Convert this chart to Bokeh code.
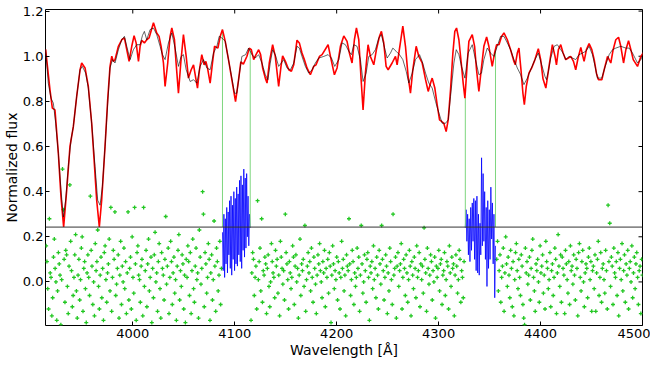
import numpy as np
from bokeh.plotting import figure
from bokeh.models import Range1d, FixedTicker, Span, PrintfTickFormatter
from bokeh.embed import file_html
from bokeh.resources import INLINE

# ---------------- data ----------------
model_wl = [3914.5, 3918.8, 3921.1, 3923.7, 3927.0, 3929.6, 3932.2, 3935.2, 3938.4, 3941.7,
            3945.0, 3948.3, 3949.9, 3953.2, 3956.4, 3959.7, 3962.3, 3964.6, 3967.2, 3969.5,
            3972.8, 3975.4, 3977.7, 3979.4, 3981.0, 3982.6, 3985.9, 3989.2, 3991.8, 3994.1,
            3996.4, 3999.0, 4001.3, 4003.3, 4005.6, 4007.2, 4008.8, 4011.4, 4013.7, 4016.0,
            4020.3, 4023.5, 4025.8, 4027.8, 4030.1, 4031.7, 4034.3, 4036.6, 4038.3, 4040.9,
            4042.5, 4044.8, 4047.1, 4049.7, 4052.4, 4054.6, 4057.3, 4059.6, 4061.8, 4063.5,
            4065.4, 4067.7, 4070.0, 4071.7, 4073.3, 4075.9, 4078.2, 4080.2, 4083.5, 4085.8,
            4088.0, 4090.7, 4093.9, 4097.2, 4100.8, 4103.8, 4106.0, 4108.5, 4112.0, 4114.3,
            4116.3, 4118.6, 4120.9, 4123.5, 4125.4, 4127.4, 4130.0, 4131.7, 4133.9, 4137.2,
            4139.8, 4143.1, 4145.4, 4147.0, 4149.7, 4153.0, 4155.6, 4157.9, 4161.1, 4163.4,
            4166.0, 4168.3, 4170.9, 4174.2, 4177.5, 4179.8, 4183.1, 4185.7, 4191.6, 4193.9,
            4197.8, 4200.4, 4203.7, 4207.0, 4210.2, 4212.5, 4215.1, 4217.4, 4219.4, 4221.7,
            4224.0, 4225.9, 4228.2, 4230.8, 4233.1, 4236.4, 4239.0, 4242.0, 4243.9, 4246.2,
            4248.5, 4250.5, 4254.4, 4257.7, 4259.3, 4261.0, 4264.9, 4267.5, 4270.1, 4272.4,
            4274.7, 4278.0, 4280.6, 4283.9, 4287.2, 4289.8, 4292.1, 4293.7, 4296.3, 4298.6,
            4300.9, 4302.9, 4305.1, 4307.4, 4309.4, 4311.7, 4314.0, 4315.9, 4317.6, 4319.9,
            4322.2, 4324.1, 4325.8, 4328.1, 4329.7, 4333.0, 4335.3, 4337.2, 4339.5, 4341.8,
            4344.4, 4347.1, 4349.3, 4352.6, 4354.9, 4356.9, 4359.2, 4361.8, 4364.1, 4367.4,
            4370.6, 4373.9, 4375.2, 4377.2, 4378.8, 4380.8, 4382.7, 4384.1, 4386.0, 4388.6,
            4391.3, 4394.5, 4397.8, 4400.1, 4402.4, 4405.2, 4408.3, 4411.6, 4414.2, 4415.6,
            4417.5, 4419.8, 4422.1, 4424.7, 4427.3, 4429.6, 4432.3, 4434.5, 4436.8, 4439.5,
            4441.1, 4442.7, 4445.0, 4447.6, 4450.3, 4452.6, 4454.8, 4456.8, 4460.1, 4462.4,
            4465.7, 4468.9, 4471.2, 4473.8, 4476.5, 4478.7, 4481.4, 4483.7, 4486.3, 4488.6,
            4490.9, 4495.1, 4498.4, 4501.0]
model_flux = [1.030, 0.851, 0.770, 0.762, 0.570, 0.377, 0.244, 0.407, 0.600, 0.688,
              0.822, 0.940, 0.970, 0.948, 0.866, 0.703, 0.525, 0.362, 0.244, 0.362,
              0.600, 0.807, 0.955, 1.000, 0.977, 0.985, 1.044, 1.073, 1.081, 1.029,
              0.977, 1.044, 1.091, 1.059, 0.977, 1.044, 1.070, 1.059, 1.073, 1.081,
              1.148, 1.103, 1.088, 1.044, 0.970, 0.866, 0.970, 1.088, 1.125, 1.073,
              0.970, 0.836, 0.970, 1.096, 0.999, 0.903, 0.940, 0.962, 0.903, 0.859,
              0.940, 1.007, 0.962, 0.977, 0.948, 0.881, 0.970, 1.044, 1.036, 1.088,
              1.118, 1.066, 0.985, 0.896, 0.799, 0.896, 0.975, 0.965, 1.000, 1.036,
              1.029, 0.985, 1.007, 1.029, 1.007, 0.948, 0.903, 0.881, 0.970, 1.051,
              0.999, 0.866, 0.955, 1.002, 0.977, 0.940, 0.933, 0.962, 1.071, 1.059,
              1.014, 0.985, 0.948, 0.918, 0.955, 0.962, 0.999, 1.007, 1.051, 0.999,
              0.918, 0.948, 1.044, 1.090, 1.066, 1.014, 0.970, 1.073, 1.125, 1.073,
              0.896, 0.762, 0.925, 1.051, 0.999, 0.962, 1.029, 1.088, 1.110, 1.059,
              0.955, 0.940, 0.970, 0.999, 0.962, 1.014, 1.133, 1.044, 0.911, 0.836,
              0.940, 1.044, 0.999, 0.970, 0.896, 0.844, 0.881, 0.903, 0.859, 0.785,
              0.718, 0.711, 0.703, 0.666, 0.718, 0.851, 1.014, 1.110, 1.125, 1.073,
              0.970, 0.881, 0.814, 0.970, 1.066, 1.096, 1.044, 0.940, 0.844, 0.940,
              1.044, 1.085, 1.044, 0.955, 1.014, 1.051, 1.051, 1.088, 1.103, 1.073,
              1.029, 0.977, 0.962, 1.014, 1.036, 0.940, 0.836, 0.785, 0.866, 0.925,
              0.948, 0.985, 1.033, 0.985, 0.900, 0.859, 0.955, 1.051, 0.999, 0.962,
              1.029, 1.051, 1.014, 0.985, 0.992, 0.999, 0.977, 0.940, 0.992, 1.039,
              1.007, 0.977, 1.029, 1.056, 1.029, 0.985, 0.925, 0.896, 0.896, 0.940,
              0.999, 0.970, 1.029, 1.073, 1.084, 1.044, 0.970, 1.029, 1.069, 1.029,
              0.985, 0.955, 0.999, 1.017]

obs_wl = [3914.5, 3917.1, 3919.8, 3922.1, 3924.4, 3927.0, 3929.6, 3931.9, 3934.2, 3936.8,
          3939.4, 3941.7, 3945.0, 3948.3, 3950.5, 3953.8, 3956.4, 3959.7, 3963.0, 3965.6,
          3967.9, 3970.2, 3972.8, 3975.4, 3977.7, 3980.0, 3982.6, 3985.9, 3989.2, 3991.8,
          3994.1, 3997.4, 4000.6, 4003.9, 4007.2, 4009.5, 4011.4, 4013.7, 4017.0, 4020.3,
          4023.5, 4026.8, 4029.1, 4031.7, 4035.0, 4038.3, 4041.5, 4044.8, 4047.4, 4049.7,
          4052.4, 4056.3, 4059.6, 4062.8, 4066.1, 4069.4, 4072.7, 4075.9, 4079.2, 4082.5,
          4084.8, 4087.4, 4090.7, 4093.9, 4097.2, 4099.8, 4102.1, 4104.7, 4107.0, 4110.7,
          4113.6, 4116.9, 4120.2, 4123.5, 4126.7, 4130.0, 4132.6, 4134.9, 4137.2, 4139.8,
          4143.1, 4145.7, 4148.0, 4151.3, 4154.6, 4157.9, 4161.1, 4163.4, 4166.0, 4169.3,
          4172.6, 4175.9, 4179.1, 4182.4, 4187.3, 4191.6, 4194.9, 4198.1, 4202.1, 4205.3,
          4208.6, 4211.9, 4214.5, 4216.8, 4220.0, 4223.3, 4225.9, 4228.9, 4231.5, 4234.8,
          4238.0, 4241.3, 4243.9, 4246.2, 4249.5, 4252.8, 4255.1, 4258.3, 4261.6, 4264.9,
          4268.2, 4270.8, 4274.1, 4277.3, 4281.3, 4283.9, 4287.2, 4290.4, 4293.7, 4297.0,
          4300.3, 4303.5, 4306.8, 4309.4, 4311.7, 4315.0, 4317.3, 4319.9, 4322.5, 4325.8,
          4329.0, 4333.0, 4336.2, 4339.5, 4342.1, 4344.4, 4347.7, 4351.0, 4354.3, 4357.5,
          4360.8, 4364.1, 4367.4, 4370.6, 4373.9, 4377.2, 4380.5, 4383.7, 4387.0, 4390.3,
          4394.5, 4397.8, 4401.1, 4404.3, 4405.8, 4407.7, 4410.0, 4413.3, 4416.5, 4419.8,
          4422.1, 4424.7, 4428.0, 4431.3, 4434.5, 4437.8, 4441.1, 4444.4, 4447.6, 4450.9,
          4453.5, 4455.8, 4460.1, 4463.4, 4467.3, 4470.6, 4473.8, 4478.7, 4483.7, 4486.9,
          4490.2, 4495.1, 4498.4, 4501.0]
obs_flux = [1.030, 0.881, 0.814, 0.792, 0.703, 0.570, 0.407, 0.288, 0.362, 0.511,
            0.629, 0.688, 0.822, 0.940, 0.955, 0.925, 0.859, 0.703, 0.511, 0.362,
            0.340, 0.422, 0.600, 0.792, 0.948, 0.985, 0.970, 1.029, 1.073, 1.088,
            1.044, 0.985, 1.029, 1.051, 1.051, 1.092, 1.110, 1.073, 1.118, 1.125,
            1.096, 1.044, 1.007, 0.985, 1.059, 1.103, 1.036, 0.955, 0.999, 1.007,
            0.940, 0.888, 0.896, 0.881, 0.955, 0.985, 0.948, 0.940, 1.014, 1.044,
            1.088, 1.081, 1.066, 0.985, 0.903, 0.836, 0.836, 0.925, 0.999, 1.007,
            1.036, 1.007, 0.992, 1.007, 0.970, 0.918, 0.896, 0.970, 1.029, 1.007,
            0.955, 0.970, 0.985, 0.948, 0.940, 0.970, 1.044, 1.036, 0.999, 0.955,
            0.925, 0.940, 0.970, 0.992, 0.999, 1.007, 0.992, 0.955, 0.985, 1.059,
            1.051, 1.022, 1.007, 1.051, 1.044, 0.985, 0.888, 0.925, 0.999, 1.007,
            1.029, 1.081, 1.096, 1.051, 0.992, 1.014, 1.036, 1.022, 1.007, 0.985,
            0.933, 0.881, 0.925, 0.985, 1.007, 0.977, 0.925, 0.881, 0.859, 0.799,
            0.748, 0.703, 0.703, 0.718, 0.822, 0.970, 1.029, 1.007, 0.955, 0.903,
            1.014, 1.051, 0.985, 0.918, 0.925, 0.985, 1.036, 1.014, 0.999, 1.044,
            1.088, 1.088, 1.059, 1.029, 0.985, 0.948, 0.918, 0.874, 0.903, 0.940,
            0.985, 1.014, 0.962, 0.911, 0.896, 0.933, 0.992, 1.044, 1.051, 1.029,
            1.014, 0.985, 0.999, 0.992, 0.985, 1.007, 1.014, 1.022, 1.044, 1.007,
            0.955, 0.903, 0.903, 0.955, 1.007, 1.029, 1.036, 1.044, 1.036, 1.036,
            1.014, 0.970, 0.985, 1.014]

# residuals (in hundredths) for the three fitted segments
resid_seg_limits = [(3915.0, 4087.0), (4116.0, 4325.0), (4357.0, 4500.0)]
resid_a = [16, 9, -3, -12, 28, 4, 2, -15, -7, 11,
           19, 6, 0, -17, -4, 13, 8, 3, -19, 1,
           50, 32, 10, -9, 14, 12, -2, -14, 7, 43,
           18, 5, -11, -6, 2, 12, 21, -4, -16, 3,
           10, -8, 1, 15, 20, -13, 6, 9, -3, -18,
           4, 12, 2, -6, 38, 14, 7, -10, 0, -15,
           17, 5, 9, 23, -2, -12, 3, 11, -7, 6,
           -17, 13, 16, 1, -9, 4, 8, 19, -4, 33,
           -13, 2, 14, 10, 31, -6, -1, 6, 12, -16,
           3, 18, -10, 7, 0, 15, -3, 9, -14, 4,
           31, -8, 6, 11, -12, 20, 2, -5, 33, 8,
           -17, 13, 16, 3, 1, -9, 7, 10, -15, 33,
           -2, 5, 14, -11, 8, 19, -4, 2, 11, -18,
           6, -7, 12, 22, 0, 4, -13, 9, 17, -3,
           -16, 13, 6, 3, -8, 10, 29, -1, 7, 15,
           -14, 2, 18, 9, -10, 4, 11, -5, 1, -17,
           7, 14, 21, -8, 5, -2, 12, 8, -12, 3,
           -18, 10, 2, 16, 9, -6, 13, -14, 5, 19,
           -3, -9, 7, 15, 1, 4, -16, 23, 11, -1,
           6, 40, 30, -11, 13, 8, -5, 2, 17, 10,
           -17, 4, 12, -8, 1, 27, 7, -13, 15, 9,
           -4, 3, 18, -10, 6]
resid_b = [-17, 4, 13, 10, -6, 2, 7, -12, 36, 1,
           9, 15, -4, 28, -9, 5, 3, 11, 8, -14,
           6, 12, -2, -11, 0, 17, 9, 4, 2, -7,
           14, 7, 10, -5, 3, -15, 18, 11, 6, -1,
           5, -8, 30, 13, 8, 1, -12, 9, 4, -3,
           2, 16, 11, -10, 7, 12, 0, 6, -16, 3,
           19, -6, 8, 5, 10, -2, 25, -13, 1, 7,
           13, 4, 9, -4, 15, 2, -9, 11, 6, -1,
           -14, 3, 12, 8, 17, 5, 0, -7, 9, 4,
           14, -11, 6, 2, 10, -5, 13, 7, -18, 3,
           16, 8, -3, 5, 1, 11, -8, 9, 4, -12,
           2, 18, 6, 10, -4, 3, -15, 12, 7, 5,
           28, 8, -6, 1, 14, 9, -10, 4, -2, 2,
           15, 6, 11, -13, 3, 25, 8, -5, 0, 12,
           5, -9, 10, 13, 2, -17, 7, 4, 9, -3,
           16, 1, 6, -7, 11, 3, -12, 14, 8, -1,
           25, 10, 5, -8, 2, 12, 7, -14, 4, -4,
           15, 9, 1, -10, 30, 3, 6, 11, -16, 7,
           13, -2, 5, 8, 17, -12, 2, 10, 6, -6,
           12, 4, -9, 1, 14, 7, -15, 9, 3, -3,
           11, 6, -7, 16, 2, 5, 13, -11, 8, 1,
           7, -5, 24, 10, 4, -13, 15, 6, -1, 3,
           12, 9, -8, 5, 0, 11, -16, 7, 2, 6,
           14, -4, 8, 10, -10, 3, 5, 13, -6, 1,
           9, 7, -12, 16, 4, -2, 11, 6, 8, -15,
           3, 12, 7, -5, 1, 14, 10, -9, 5, 2,
           -7, 9]
resid_c = [10, 18, -4, 5, 12, -9, 2, 7, 15, -13,
           4, 20, 8, -2, 11, 3, -7, 14, 6, -11,
           9, -15, 1, 13, 17, 5, -3, 10, 2, -6,
           12, 7, -10, -16, -19, 15, 4, 9, -1, 3,
           11, -8, 6, 14, 19, 2, -4, -13, 8, 5,
           10, 0, -9, 16, 4, 7, 12, -5, 3, -12,
           18, 9, 6, -3, 1, 13, -11, 5, 8, -6,
           2, 15, 10, -14, 4, 21, 7, -2, 12, -9,
           11, 6, 3, -14, 14, 8, 1, -5, 9, -10,
           16, 5, 7, -1, 12, 3, -8, 10, 6, -15,
           13, 17, 2, -4, 9, 14, 0, -11, 4, 8,
           6, -7, 11, 15, 1, 9, -13, 5, 7, -3,
           12, -13, 4, 10, 18, -6, 2, 13, -9, 6,
           8, 1, -5, 14, 5, -12, 34, 9, 26, -2,
           11, 7, -10, 15, 4, 2, 9, -6, 13, -15,
           6, 10, 1, 17, -4, 5, 12, -9, 8, 3,
           14, -12, 6, 9, 0, 16, -7, 4, 11, -3,
           8, 13, 2, -10, 5, 7, -14, 10, 3]

# masked regions: residuals shown in blue
mask_limits = [(4088.0, 4115.2), (4326.2, 4355.8)]
mask_resid_1 = [22, 5, 30, 2, 28, 8, 33, 4, 31, 12, 36, 6, 38, 3, 34, 10, 40, 5, 37, 8,
                42, 7, 39, 12, 45, 9, 47, 6, 43, 14, 50, 11, 46, 15, 48, 20, 38, 16, 30, 24]
mask_resid_2 = [24, 32, 18, 30, 12, 28, 9, 33, 14, 35, 18, 37, 10, 36, 5, 38, 4, 30, 3, 26,
                12, 55, 16, 48, 18, 40, 10, 33, -2, 36, 6, 32, 10, 42, 19, 35, 8, 30, -7, 16]

mask_edges = [4088.0, 4115.2, 4326.2, 4355.8]
mask_edge_tops = [1.118, 1.033, 0.818, 1.030]
threshold = 0.243

x_min, x_max = 3914.4, 4500.0
y_min, y_max = -0.193, 1.207
x_ticks = [4000, 4100, 4200, 4300, 4400, 4500]
y_ticks = [0.0, 0.2, 0.4, 0.6, 0.8, 1.0, 1.2]

# ---------------- figure ----------------
FONT = "DejaVu Sans"
p = figure(frame_width=597, frame_height=316,
           x_range=Range1d(x_min, x_max), y_range=Range1d(y_min, y_max),
           output_backend="svg", toolbar_location=None,
           min_border_left=10, min_border_right=8, min_border_top=9, min_border_bottom=10,
           background_fill_color="white", border_fill_color="white")
p.outline_line_color = "black"
p.outline_line_width = 1
p.xgrid.grid_line_color = None
p.ygrid.grid_line_color = None

for ax in (p.xaxis[0], p.yaxis[0]):
    ax.major_tick_in = 4
    ax.major_tick_out = 0
    ax.minor_tick_line_color = None
    ax.axis_line_color = None
    ax.major_tick_line_color = "black"
    ax.major_label_text_font = FONT
    ax.major_label_text_color = "black"
    ax.major_label_text_font_size = "13px"
    ax.axis_label_text_font = FONT
    ax.axis_label_text_font_size = "14px"
    ax.axis_label_text_font_style = "normal"
    ax.axis_label_text_color = "black"

xa = p.xaxis[0]
xa.ticker = FixedTicker(ticks=x_ticks)
xa.axis_label = "Wavelength [Å]"
xa.major_label_standoff = 3
xa.axis_label_standoff = 1
ya = p.yaxis[0]
ya.ticker = FixedTicker(ticks=y_ticks)
ya.formatter = PrintfTickFormatter(format="%.1f")
ya.axis_label = "Normalized flux"
ya.major_label_standoff = 2
ya.axis_label_standoff = 0

# inward ticks on the top and right frame edges
p.ray(x=x_ticks, y=[y_max] * len(x_ticks), length=4, length_units="screen",
      angle=-np.pi / 2, line_color="black", line_width=1)
p.ray(x=[x_max] * len(y_ticks), y=y_ticks, length=4, length_units="screen",
      angle=np.pi, line_color="black", line_width=1)

# residual points
for (lo, hi), vals in zip(resid_seg_limits, [resid_a, resid_b, resid_c]):
    wl = np.linspace(lo, hi, len(vals))
    p.scatter(wl, np.array(vals) / 100.0, marker="cross", size=4,
              line_color="#22c722", line_width=1.3)

# masked residuals
for (lo, hi), vals in zip(mask_limits, [mask_resid_1, mask_resid_2]):
    wl = np.linspace(lo, hi, len(vals))
    p.line(wl, np.array(vals) / 100.0, line_color="#0000ff", line_width=0.8)

p.add_layout(Span(location=threshold, dimension="width", line_color="#333333", line_width=1))

p.segment(x0=mask_edges, y0=[threshold] * len(mask_edges), x1=mask_edges, y1=mask_edge_tops,
          line_color="#7fd67f", line_width=1)

p.line(model_wl, model_flux, line_color="#ff0000", line_width=1.6)
p.line(obs_wl, obs_flux, line_color="black", line_width=0.8, line_alpha=0.75)

open("out.html", "w").write(file_html(p, INLINE))
